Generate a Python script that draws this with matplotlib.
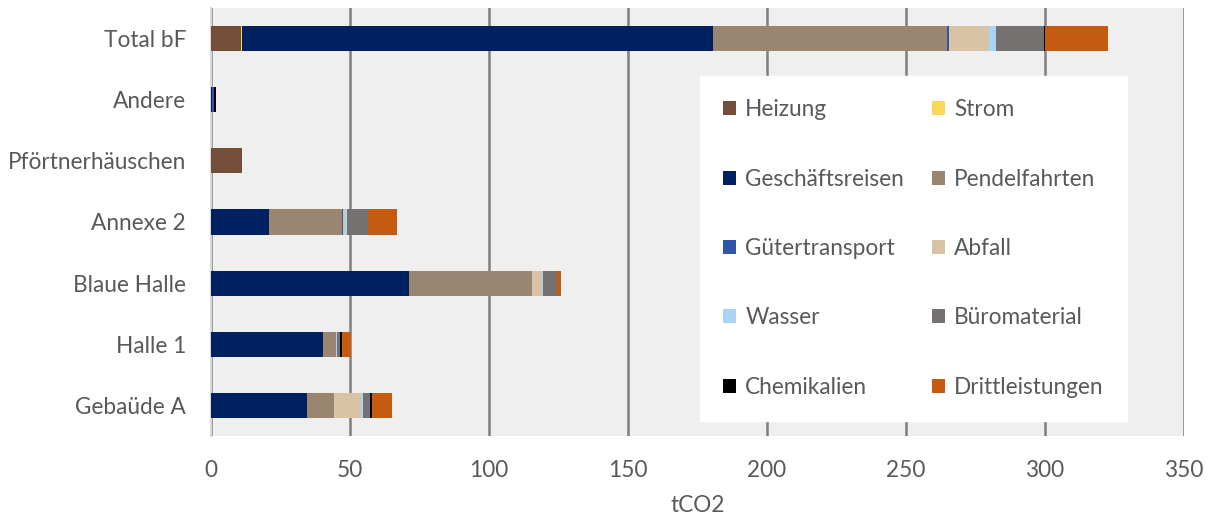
import matplotlib.pyplot as plt
import numpy as np

plt.rcParams["font.family"] = ["Lato", "DejaVu Sans"]

# Kategorien von unten nach oben
gebaeude = ["Gebaüde A", "Halle 1", "Blaue Halle", "Annexe 2",
            "Pförtnerhäuschen", "Andere", "Total bF"]

quellen = ["Heizung", "Strom", "Geschäftsreisen", "Pendelfahrten",
           "Gütertransport", "Abfall", "Wasser", "Büromaterial",
           "Chemikalien", "Drittleistungen"]

farben = ["#734F3A", "#F9D85A", "#002060", "#9A8571", "#2F55A8",
          "#D9C3A5", "#A9D4F5", "#767171", "#000000", "#C55A11"]

# tCO2 je Quelle, Reihenfolge wie gebaeude
heizung = [0.0, 0.0, 0.0, 0.0, 11.0, 0.0, 10.8]
strom = [0.0, 0.0, 0.0, 0.0, 0.0, 0.0, 0.3]
geschaeftsreisen = [34.6, 40.4, 71.3, 21.0, 0.0, 0.2, 169.4]
pendelfahrten = [9.7, 4.4, 44.3, 26.0, 0.0, 0.0, 84.3]
guetertransport = [0.0, 0.0, 0.0, 0.5, 0.0, 1.0, 0.6]
abfall = [9.6, 0.0, 3.3, 0.8, 0.0, 0.0, 14.6]
wasser = [0.7, 0.6, 0.6, 0.5, 0.0, 0.0, 2.4]
bueromaterial = [2.7, 0.9, 5.0, 7.8, 0.0, 0.0, 17.4]
chemikalien = [0.5, 0.7, 0.0, 0.0, 0.0, 0.5, 0.2]
drittleistungen = [7.4, 3.3, 1.5, 10.2, 0.0, 0.0, 22.7]

werte = [heizung, strom, geschaeftsreisen, pendelfahrten, guetertransport,
         abfall, wasser, bueromaterial, chemikalien, drittleistungen]

textfarbe = "#595959"
fs = 16.3

fig = plt.figure(figsize=(12.09, 5.16), dpi=100)
ax = fig.add_axes([211 / 1209, 1 - 436 / 516, (1184 - 211) / 1209, 428 / 516])
ax.set_facecolor("#EFEFEF")

y = np.arange(len(gebaeude))
links = np.zeros(len(gebaeude))
balken = []
for name, w, c in zip(quellen, werte, farben):
    b = ax.barh(y, w, left=links, height=0.41, color=c, label=name, zorder=3)
    balken.append(b)
    links += np.array(w)

ax.set_xlim(0, 350)
ax.set_ylim(-0.5, len(gebaeude) - 0.5)
ax.set_xticks(np.arange(0, 351, 50))
ax.set_yticks(y)
ax.set_yticklabels(gebaeude)
ax.tick_params(length=0, labelsize=fs, colors=textfarbe)
ax.tick_params(axis="y", pad=18)
ax.tick_params(axis="x", pad=17)
ax.grid(axis="x", color="#7F7F7F", linewidth=1.8, zorder=1)
ax.set_axisbelow(True)
for s in ["top", "right", "bottom"]:
    ax.spines[s].set_visible(False)
ax.spines["left"].set_color("#D9D9D9")
ax.spines["left"].set_linewidth(1.5)
ax.set_xlabel("tCO2", fontsize=fs, color=textfarbe, labelpad=10)

# Legende zeilenweise wie im Original (2 Spalten)
reihenfolge = [0, 2, 4, 6, 8, 1, 3, 5, 7, 9]
leg = ax.legend([balken[i] for i in reihenfolge],
                [quellen[i] for i in reihenfolge],
                ncol=2, loc="upper left",
                bbox_to_anchor=(700 / 1209, 1 - 76 / 516),
                bbox_transform=fig.transFigure,
                fontsize=fs, frameon=True, fancybox=False,
                handlelength=0.58, handleheight=0.58, handletextpad=0.4,
                labelspacing=2.14, columnspacing=1.23, borderpad=1.02,
                borderaxespad=0)
leg.get_frame().set_facecolor("white")
leg.get_frame().set_edgecolor("white")
leg.get_frame().set_alpha(1)
leg.set_zorder(5)
for t in leg.get_texts():
    t.set_color(textfarbe)

fig.savefig("out.png", dpi=100)
